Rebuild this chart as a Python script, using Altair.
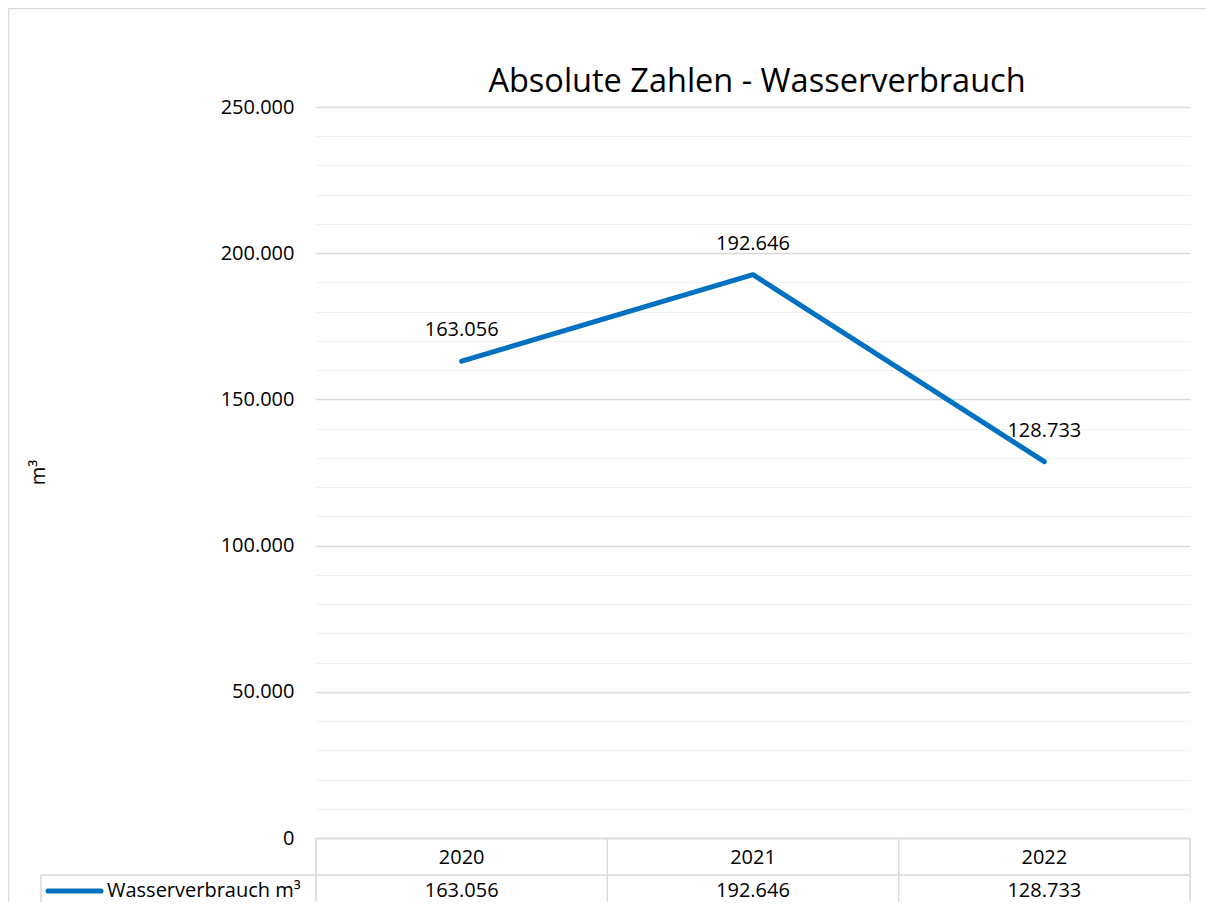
import altair as alt
import pandas as pd

years = ["2020", "2021", "2022"]
values = [163056, 192646, 128733]
series_name = "Wasserverbrauch m³"
title_text = "Absolute Zahlen - Wasserverbrauch"
y_title = "m³"
y_max = 250000
major_step = 50000
minor_step = 10000

df = pd.DataFrame({"year": years, "value": values})
legend_df = pd.DataFrame({"s": [series_name]})
title_df = pd.DataFrame({"t": [title_text]})

FONT = "Open Sans"
BLUE = "#0070C0"
GRID = "#d9d9d9"
MINOR = "#f0f0f0"
TXT = "#000000"
W, H = 874, 731

fmt_expr = "replace(format(datum.value, ','), ',', '.')"

xscale = alt.Scale(type="band", domain=years, paddingInner=0, paddingOuter=0)
yscale = alt.Scale(domain=[0, y_max], nice=False)

tick_vals = list(range(0, y_max + 1, minor_step))

yaxis = alt.Axis(
    values=tick_vals,
    tickCount=len(tick_vals) + 5,
    grid=True,
    gridColor={"condition": {"test": f"datum.value % {major_step} === 0", "value": GRID}, "value": MINOR},
    gridWidth={"condition": {"test": f"datum.value % {major_step} === 0", "value": 1.5}, "value": 1.2},
    labelExpr=f"datum.value % {major_step} === 0 ? {fmt_expr} : ''",
    labelOverlap=False,
    domain=False,
    ticks=False,
    labelPadding=22,
    labelFont=FONT,
    labelFontSize=20,
    labelColor=TXT,
    title=y_title,
    titleFont=FONT,
    titleFontSize=20,
    titleFontWeight="normal",
    titleColor=TXT,
    titleAngle=270,
    titleX=-278,
    titleY=365,
    titleAlign="center",
    titleBaseline="middle",
)

base = alt.Chart(df).transform_calculate(label="replace(format(datum.value, ','), ',', '.')")

X = alt.X("year:N", scale=xscale, axis=None)

line = base.mark_line(color=BLUE, strokeWidth=5, strokeCap="round", strokeJoin="round").encode(
    x=X, y=alt.Y("value:Q", scale=yscale, axis=yaxis)
)

labels = base.mark_text(font=FONT, fontSize=20, color=TXT, dy=-31, baseline="middle", align="center").encode(
    x=X, y=alt.Y("value:Q", scale=yscale), text="label:N"
)

year_text = base.mark_text(font=FONT, fontSize=20, color=TXT, baseline="middle", align="center").encode(
    x=X, y=alt.value(751), text="year:N"
)
value_text = base.mark_text(font=FONT, fontSize=20, color=TXT, baseline="middle", align="center").encode(
    x=X, y=alt.value(784), text="label:N"
)

rule_kw = dict(color=GRID, strokeWidth=1.5)
vlines = base.mark_rule(**rule_kw).encode(
    x=alt.X("year:N", scale=xscale, bandPosition=0, axis=None), y=alt.value(731), y2=alt.value(800)
)
vline_right = alt.Chart(legend_df).mark_rule(**rule_kw).encode(x=alt.value(W), y=alt.value(731), y2=alt.value(800))
vline_leg = alt.Chart(legend_df).mark_rule(**rule_kw).encode(x=alt.value(-275), y=alt.value(768), y2=alt.value(800))
hline_top = alt.Chart(legend_df).mark_rule(**rule_kw).encode(x=alt.value(0), x2=alt.value(W), y=alt.value(731.5))
hline_mid = alt.Chart(legend_df).mark_rule(**rule_kw).encode(x=alt.value(-275), x2=alt.value(W), y=alt.value(768))

border_left = alt.Chart(legend_df).mark_rule(color=GRID, strokeWidth=1.5).encode(
    x=alt.value(-307.5), y=alt.value(-98.5), y2=alt.value(800)
)
border_top = alt.Chart(legend_df).mark_rule(color=GRID, strokeWidth=1.5).encode(
    x=alt.value(-307.5), x2=alt.value(900), y=alt.value(-98.5)
)

legend_key = alt.Chart(legend_df).mark_rule(color=BLUE, strokeWidth=5, strokeCap="round").encode(
    x=alt.value(-268), x2=alt.value(-215), y=alt.value(784)
)
legend_text = alt.Chart(legend_df).mark_text(font=FONT, fontSize=20, color=TXT, align="left", baseline="middle").encode(
    x=alt.value(-209), y=alt.value(784), text="s:N"
)

title_mark = alt.Chart(title_df).mark_text(font=FONT, fontSize=32.5, color=TXT, align="center", baseline="alphabetic").encode(
    x=alt.value(441), y=alt.value(-15), text="t:N"
)

chart = alt.layer(
    border_left, border_top,
    vlines, vline_right, vline_leg, hline_top, hline_mid,
    line, labels, year_text, value_text, legend_key, legend_text, title_mark,
).properties(
    width=W,
    height=H,
    background="white",
    autosize=alt.AutoSizeParams(type="none"),
    padding={"left": 308, "top": 99, "right": 16, "bottom": 64},
).configure_view(stroke=None)

chart.save("out.html", embed_options={"renderer": "svg", "actions": False})
